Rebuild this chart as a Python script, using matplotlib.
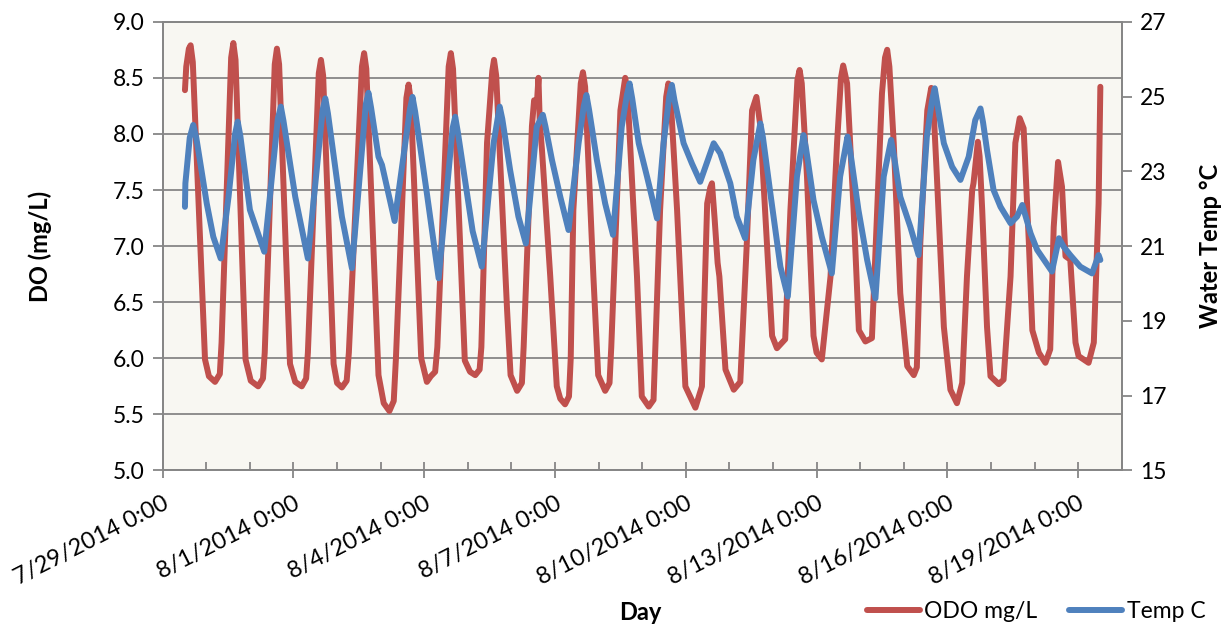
import numpy as np
import pandas as pd
import matplotlib
matplotlib.use('Agg')
import matplotlib.pyplot as plt
import matplotlib.dates as mdates
from matplotlib.ticker import FuncFormatter, FixedLocator

plt.rcParams['font.family'] = ['Lato', 'DejaVu Sans']

START = pd.Timestamp('2014-07-29')

# dissolved oxygen (days since 7/29/2014 0:00, mg/L)
odo_day = [0.51, 0.54, 0.60, 0.64, 0.69, 0.97, 1.06, 1.20, 1.31, 1.35,
           1.57, 1.62, 1.67, 1.90, 2.02, 2.19, 2.30, 2.34, 2.57, 2.62,
           2.67, 2.92, 3.04, 3.19, 3.29, 3.33, 3.58, 3.63, 3.68, 3.92,
           4.00, 4.11, 4.22, 4.27, 4.57, 4.62, 4.67, 4.95, 5.07, 5.20,
           5.30, 5.35, 5.59, 5.64, 5.69, 5.93, 6.06, 6.15, 6.25, 6.30,
           6.56, 6.61, 6.66, 6.93, 7.05, 7.17, 7.27, 7.31, 7.44, 7.56,
           7.60, 7.65, 7.90, 7.98, 8.13, 8.24, 8.28, 8.47, 8.52, 8.58,
           8.62, 8.65, 8.70, 8.89, 9.04, 9.12, 9.23, 9.32, 9.36, 9.42,
           9.59, 9.64, 9.69, 9.88, 9.99, 10.15, 10.25, 10.29, 10.50, 10.61,
           10.66, 10.88, 10.99, 11.15, 11.26, 11.41, 11.55, 11.60, 11.65, 11.80,
           11.99, 12.22, 12.37, 12.49, 12.56, 12.60, 12.66, 12.73, 12.77, 12.91,
           13.10, 13.25, 13.40, 13.52, 13.62, 13.71, 13.86, 13.98, 14.09, 14.28,
           14.40, 14.56, 14.61, 14.66, 14.78, 14.93, 15.00, 15.12, 15.32, 15.47,
           15.56, 15.61, 15.70, 15.85, 15.97, 16.12, 16.27, 16.39, 16.50, 16.57,
           16.62, 16.67, 16.77, 16.92, 17.08, 17.23, 17.30, 17.38, 17.54, 17.63,
           17.68, 17.76, 17.92, 18.07, 18.22, 18.34, 18.45, 18.57, 18.60, 18.70,
           18.74, 18.80, 18.91, 18.99, 19.18, 19.29, 19.45, 19.56, 19.66, 19.75,
           19.87, 19.95, 20.10, 20.25, 20.36, 20.44, 20.54, 20.63, 20.71, 20.82,
           20.94, 21.01, 21.24, 21.36, 21.47, 21.51]
odo_val = [8.39, 8.60, 8.76, 8.79, 8.64, 5.99, 5.84, 5.79, 5.86, 6.14,
           8.68, 8.81, 8.66, 5.99, 5.80, 5.75, 5.82, 6.05, 8.62, 8.76,
           8.62, 5.95, 5.79, 5.75, 5.82, 6.05, 8.54, 8.66, 8.52, 5.95,
           5.78, 5.74, 5.80, 6.05, 8.60, 8.72, 8.58, 5.85, 5.60, 5.53,
           5.62, 6.00, 8.32, 8.44, 8.30, 6.00, 5.79, 5.84, 5.88, 6.10,
           8.60, 8.72, 8.58, 5.98, 5.88, 5.85, 5.90, 6.10, 7.92, 8.56,
           8.66, 8.52, 6.43, 5.85, 5.71, 5.78, 6.10, 8.07, 8.30, 8.25,
           8.50, 8.10, 7.86, 6.73, 5.75, 5.64, 5.59, 5.66, 6.00, 7.32,
           8.45, 8.55, 8.42, 6.73, 5.85, 5.71, 5.78, 6.10, 8.21, 8.50,
           8.38, 6.73, 5.66, 5.57, 5.63, 7.32, 8.33, 8.45, 8.33, 7.32,
           5.75, 5.56, 5.75, 7.38, 7.52, 7.56, 7.25, 6.85, 6.73, 5.90,
           5.72, 5.79, 7.03, 8.21, 8.33, 8.07, 7.03, 6.20, 6.09, 6.17,
           7.32, 8.48, 8.57, 8.45, 7.62, 6.20, 6.05, 5.99, 6.73, 7.92,
           8.50, 8.61, 8.45, 7.32, 6.25, 6.15, 6.18, 7.32, 8.36, 8.68,
           8.75, 8.60, 7.92, 6.58, 5.93, 5.85, 5.92, 7.03, 8.21, 8.41,
           8.25, 7.62, 6.28, 5.72, 5.60, 5.78, 6.73, 7.50, 7.56, 7.93,
           7.80, 7.32, 6.28, 5.84, 5.77, 5.81, 6.73, 7.92, 8.14, 8.05,
           7.03, 6.25, 6.05, 5.96, 6.08, 7.17, 7.75, 7.53, 6.91, 6.88,
           6.14, 6.02, 5.96, 6.14, 7.38, 8.42]

# water temperature (days since 7/29/2014 0:00, deg C)
temp_day = [0.51, 0.52, 0.62, 0.70, 0.77, 1.01, 1.16, 1.33, 1.51, 1.66,
            1.72, 1.78, 2.00, 2.33, 2.64, 2.71, 2.77, 3.04, 3.33, 3.67,
            3.73, 3.79, 4.11, 4.34, 4.66, 4.72, 4.78, 4.95, 5.03, 5.32,
            5.67, 5.73, 5.79, 6.06, 6.33, 6.65, 6.71, 6.77, 7.11, 7.32,
            7.59, 7.73, 7.79, 7.97, 8.16, 8.33, 8.58, 8.72, 8.78, 8.93,
            9.12, 9.31, 9.54, 9.66, 9.72, 9.78, 9.96, 10.15, 10.33, 10.53,
            10.65, 10.71, 10.77, 10.92, 11.11, 11.34, 11.49, 11.62, 11.68, 11.74,
            11.95, 12.14, 12.33, 12.64, 12.79, 13.02, 13.17, 13.36, 13.55, 13.71,
            13.77, 13.94, 14.17, 14.34, 14.55, 14.70, 14.76, 14.93, 15.12, 15.35,
            15.54, 15.71, 15.77, 15.96, 16.16, 16.35, 16.54, 16.71, 16.77, 16.92,
            17.15, 17.34, 17.53, 17.65, 17.71, 17.77, 17.92, 18.11, 18.30, 18.49,
            18.64, 18.76, 18.82, 18.91, 19.06, 19.22, 19.45, 19.60, 19.72, 19.91,
            20.06, 20.40, 20.56, 20.67, 20.82, 21.05, 21.32, 21.47, 21.51]
temp_val = [22.05, 22.68, 23.90, 24.24, 23.90, 22.14, 21.25, 20.67, 22.32, 24.00,
            24.33, 23.95, 21.97, 20.85, 24.40, 24.73, 24.35, 22.32, 20.67, 24.65,
            24.95, 24.55, 21.79, 20.41, 24.80, 25.10, 24.70, 23.39, 23.17, 21.67,
            24.65, 24.99, 24.60, 22.41, 20.14, 24.15, 24.46, 24.05, 21.40, 20.45,
            23.75, 24.73, 24.40, 23.03, 21.79, 21.07, 24.19, 24.51, 24.20, 23.30,
            22.32, 21.43, 23.75, 24.75, 25.04, 24.65, 23.30, 22.14, 21.30, 24.19,
            25.05, 25.35, 24.95, 23.75, 22.86, 21.74, 23.75, 25.00, 25.31, 24.90,
            23.75, 23.21, 22.72, 23.75, 23.48, 22.68, 21.79, 21.21, 23.30, 24.28,
            23.90, 22.41, 20.45, 19.65, 22.86, 23.97, 23.60, 22.23, 21.25, 20.27,
            22.86, 23.93, 23.55, 21.97, 20.63, 19.60, 22.86, 23.84, 23.45, 22.32,
            21.52, 20.76, 23.93, 24.90, 25.22, 24.80, 23.75, 23.12, 22.77, 23.39,
            24.37, 24.68, 24.30, 23.57, 22.50, 22.05, 21.61, 21.79, 22.10, 21.34,
            20.90, 20.32, 21.21, 20.98, 20.76, 20.45, 20.27, 20.76, 20.63]

x_ticks_days = [0, 3, 6, 9, 12, 15, 18, 21]
do_ticks = [5.0, 5.5, 6.0, 6.5, 7.0, 7.5, 8.0, 8.5, 9.0]
temp_ticks = [15, 17, 19, 21, 23, 25, 27]

RED = '#C0504D'
BLUE = '#4F81BD'
GREY = '#868686'

odo_t = START + pd.to_timedelta(odo_day, unit='D')
temp_t = START + pd.to_timedelta(temp_day, unit='D')
major = [mdates.date2num(START + pd.Timedelta(days=d)) for d in x_ticks_days]
minor = [mdates.date2num(START + pd.Timedelta(days=d)) for d in range(23)]

fig, ax = plt.subplots(figsize=(12.29, 6.28), dpi=100)
fig.subplots_adjust(left=0.1324, right=0.9127, top=0.9654, bottom=0.2508)
ax.set_facecolor('#F8F7F2')
ax2 = ax.twinx()

l1, = ax.plot(odo_t, odo_val, color=RED, lw=4.3, solid_joinstyle='round',
              solid_capstyle='round', label='ODO mg/L')
l2, = ax2.plot(temp_t, temp_val, color=BLUE, lw=4.3, solid_joinstyle='round',
               solid_capstyle='round', label='Temp C')

ax.set_xlim(START, START + pd.Timedelta(days=22))
ax.set_ylim(5.0, 9.0)
ax2.set_ylim(15, 27)
ax.yaxis.set_major_locator(FixedLocator(do_ticks))
ax.yaxis.set_major_formatter(FuncFormatter(lambda v, p: f'{v:.1f}'))
ax2.yaxis.set_major_locator(FixedLocator(temp_ticks))

ax.xaxis.set_major_locator(FixedLocator(major))
ax.xaxis.set_minor_locator(FixedLocator(minor))
ax.xaxis.set_major_formatter(FuncFormatter(
    lambda v, p: (lambda d: f'{d.month}/{d.day}/{d.year} 0:00')(mdates.num2date(v))))

ax.grid(axis='y', color=GREY, lw=1.3)
ax.set_axisbelow(True)
for a in (ax, ax2):
    for s in a.spines.values():
        s.set_color(GREY)
        s.set_linewidth(1.3)
ax.tick_params(axis='y', direction='out', length=7, width=1.3, color=GREY,
               labelsize=16.5, pad=6)
ax2.tick_params(axis='y', direction='out', length=7, width=1.3, color=GREY,
                labelsize=16.5, pad=6)
ax.tick_params(axis='x', which='major', direction='inout', length=12, width=1.3,
               color=GREY, labelsize=17, pad=10)
ax.tick_params(axis='x', which='minor', direction='in', length=6, width=1.3,
               color=GREY)
for lab in ax.get_xticklabels():
    lab.set_rotation(27)
    lab.set_ha('right')
    lab.set_rotation_mode('anchor')

ax.set_ylabel('DO (mg/L)', fontsize=17, fontweight='bold')
ax.yaxis.set_label_coords(-0.115, 0.5)
ax2.set_ylabel('Water Temp °C', fontsize=17, fontweight='bold')
ax2.yaxis.set_label_coords(1.081, 0.5)
fig.text(640 / 1229, 1 - 612 / 628, 'Day', fontsize=17, fontweight='bold',
         ha='center', va='center')

fig.legend([l1, l2], ['ODO mg/L', 'Temp C'], loc='center', ncol=2,
           bbox_to_anchor=(1036 / 1229, 1 - 612 / 628), frameon=False,
           fontsize=16.5, handlelength=2.3, columnspacing=1.4, handletextpad=0.2)

fig.savefig('out.png', dpi=100)
